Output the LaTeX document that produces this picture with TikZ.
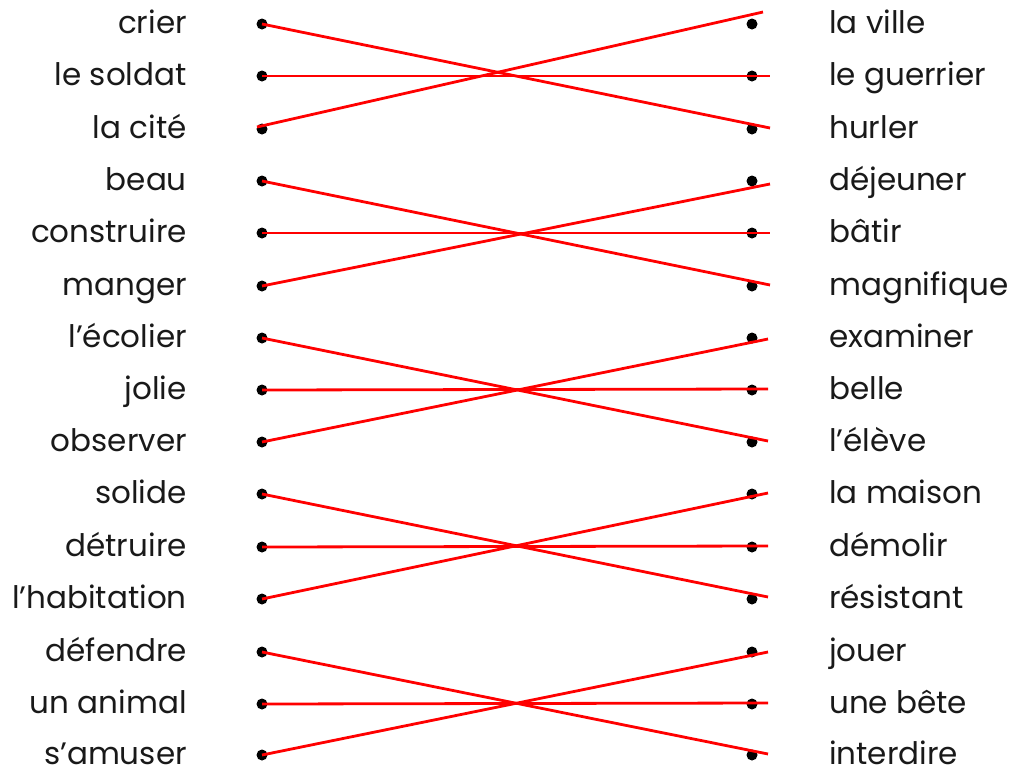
\documentclass[tikz,border=0pt]{standalone}
\usepackage{fontspec}
\setmainfont{Poppins}
\begin{document}
\begin{tikzpicture}[x=1pt,y=-1pt,
  lbl/.style={font=\fontsize{31}{36}\selectfont, inner sep=0pt, text=black!90},
  dot/.style={circle, fill=black, inner sep=0pt, minimum size=11pt},
  link/.style={red, line width=2.8pt}]
\useasboundingbox (0,0) rectangle (1010,772);
\def\rows{{24,76,129,181,233,286,338,390,442,494,547,599,652,704,755}}
\foreach \t [count=\i from 0] in {crier,le soldat,la cité,beau,construire,manger,l’écolier,jolie,observer,solide,détruire,l’habitation,défendre,un animal,s’amuser}{
  \pgfmathsetmacro\yy{\rows[\i]}
  \node[lbl, anchor=base east] (L\i) at (187,\yy+9) {\t};
  \node[dot] (a\i) at (262,\yy) {};
}
\foreach \t [count=\i from 0] in {la ville,le guerrier,hurler,déjeuner,bâtir,magnifique,examiner,belle,l’élève,la maison,démolir,résistant,jouer,une bête,interdire}{
  \pgfmathsetmacro\yy{\rows[\i]}
  \node[lbl, anchor=base west] (R\i) at (829,\yy+9) {\t};
  \node[dot] (b\i) at (752,\yy) {};
}
% free ends of the hand-drawn links
\coordinate (e0) at (770,128); \coordinate (e1) at (770,76); \coordinate (e2) at (763,12);
\coordinate (e3) at (770,285); \coordinate (e4) at (770,233); \coordinate (e5) at (770,184);
\coordinate (e6) at (768,441); \coordinate (e7) at (768,389); \coordinate (e8) at (768,339);
\coordinate (e9) at (768,597); \coordinate (e10) at (768,546); \coordinate (e11) at (768,493);
\coordinate (e12) at (768,754); \coordinate (e13) at (768,703); \coordinate (e14) at (768,652);
\coordinate (s2) at (257,127);
\draw[link] (a0.center) -- (e0);
\draw[link] (a1.center) -- (e1);
\draw[link] (s2) -- (e2);
\foreach \i in {3,...,14}{ \draw[link] (a\i.center) -- (e\i); }
\end{tikzpicture}
\end{document}
